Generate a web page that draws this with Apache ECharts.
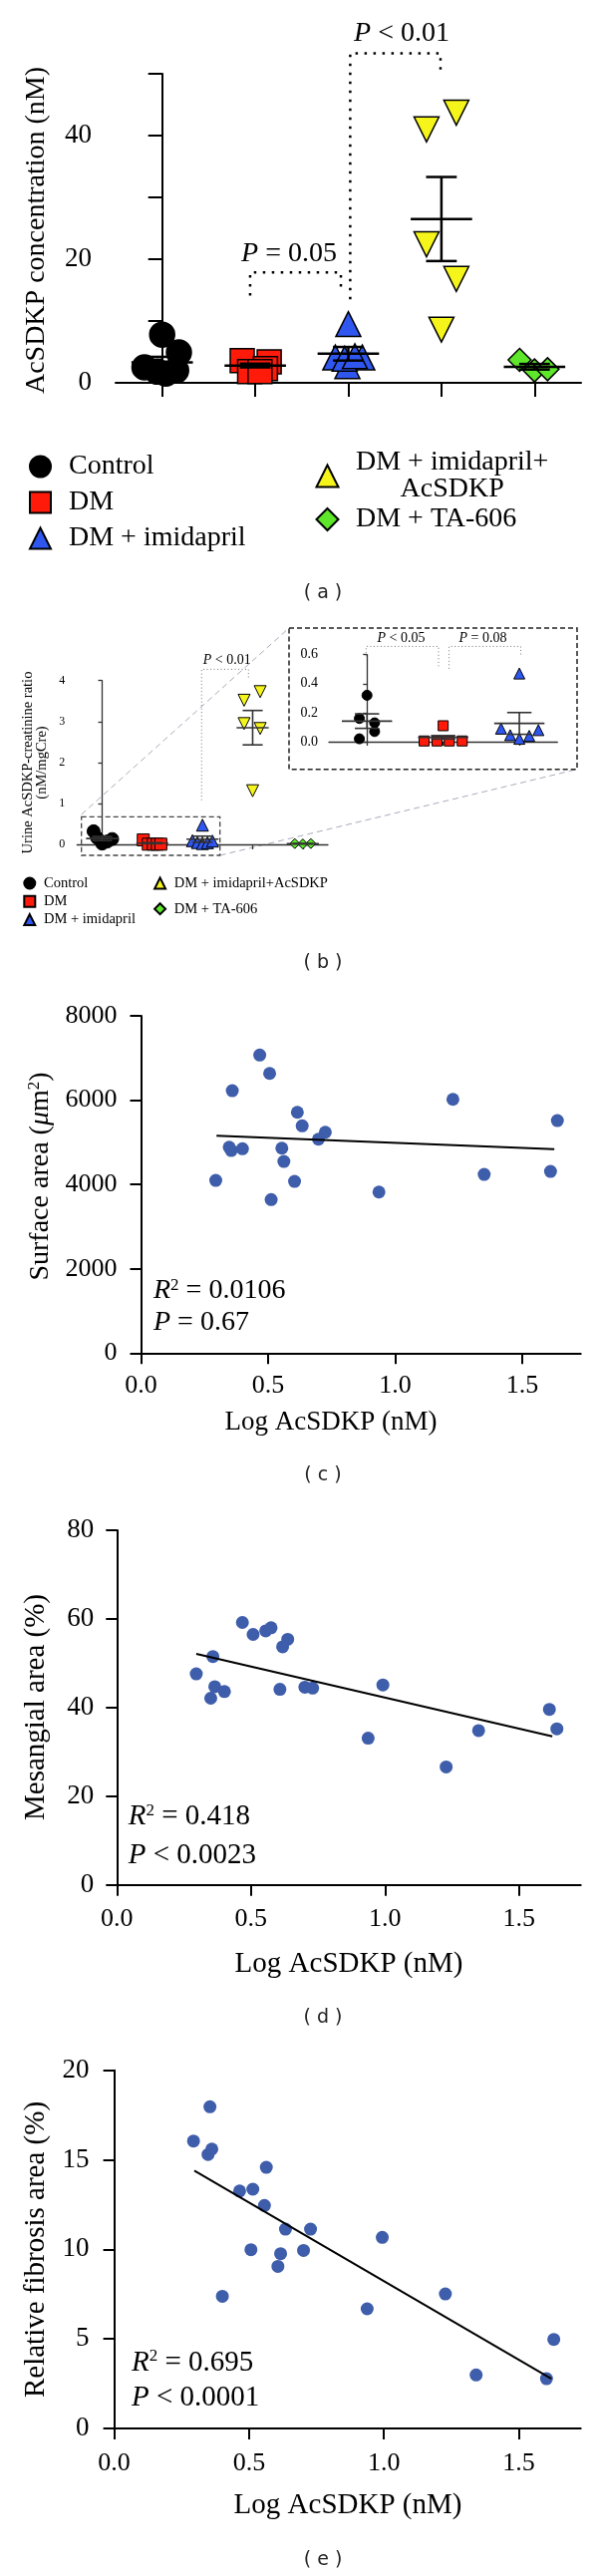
<!DOCTYPE html>
<html><head><meta charset="utf-8">
<script src="https://cdn.jsdelivr.net/npm/echarts@6/dist/echarts.min.js"></script>
<style>html,body{margin:0;padding:0;background:#fff}#c{width:600px;height:2584px}</style>
</head><body><div id="c"></div>
<script>
// ---------- categories ----------
const groups = ['Control', 'DM', 'DM + imidapril', 'DM + imidapril+AcSDKP', 'DM + TA-606'];

// ---------- panel (a): plasma AcSDKP (nM) ----------
const aCtrl = [7.8, 4.9, 2.5, 1.8, 2.0, 1.5];
const aCtrlX = [0, 0.18, -0.19, -0.05, 0.15, 0.04];
const aDM = [3.6, 3.4, 2.3, 1.8, 1.8];
const aDMX = [-0.14, 0.15, 0.11, -0.06, 0.05];
const aImi = [9.5, 4.1, 4.1, 2.7, 3.9, 4.3];
const aImiX = [0, -0.14, 0.15, -0.01, -0.04, 0.07];
const aAc = [41.0, 43.7, 22.4, 16.8, 8.6];
const aAcX = [-0.16, 0.16, -0.16, 0.16, 0];
const aTA = [3.7, 2.0, 2.2];
const aTAX = [-0.16, 0, 0.14];
const aMean = [3.3, 2.8, 4.7, 26.5, 2.6];
const aSEM = [0.9, 0.3, 1.1, 6.8, 0.45];
const aYLabels = [0, 20, 40];
const aBracket1 = [[0.945, 14.1], [0.945, 17.85], [1.92, 17.85], [1.92, 14.7]];
const aBracket2 = [[2.02, 13.5], [2.02, 53.3], [2.99, 53.3], [2.99, 50]];

// ---------- panel (b): urine AcSDKP-creatinine ratio ----------
const bCtrl = [0.32, 0.16, 0.13, 0.07, 0.02];
const bCtrlX = [-0.17, -0.1, 0.2, 0.1, 0.0];
const bCtrlXi = [0, -0.1, 0.1, 0.1, -0.1];
const bDM = [0.11, 0.005, 0.005, 0.005, 0.005];
const bDMX = [-0.18, -0.08, 0.02, 0.1, 0.17];
const bDMXi = [0, -0.25, -0.08, 0.08, 0.25];
const bImi = [0.47, 0.09, 0.045, 0.02, 0.04, 0.08];
const bImiX = [0, -0.2, -0.1, 0, 0.1, 0.2];
const bImiXi = [0, -0.24, -0.12, 0, 0.13, 0.25];
const bAc = [3.52, 3.73, 2.95, 2.83, 1.31];
const bAcX = [-0.17, 0.15, -0.17, 0.15, 0];
const bTA = [0.02, 0.01, 0.02];
const bTAX = [-0.16, 0, 0.16];
const bMean = [0.142, 0.03, 0.126, 2.85, 0.015];
const bSEM = [0.05, 0.012, 0.075, 0.42, 0.005];
const bBracket = [[1.983, 1.08], [1.983, 4.276], [2.917, 4.276], [2.917, 4.03]];
const biBracket1 = [[-0.012, 0.589], [-0.012, 0.657], [0.939, 0.657], [0.939, 0.503]];
const biBracket2 = [[1.077, 0.503], [1.077, 0.657], [2.019, 0.657], [2.019, 0.589]];

// ---------- panels (c)-(e): correlations ----------
const xTicks = [0, 0.5, 1.0, 1.5];
const cX = [0.467,0.506,0.359,1.227,1.638,0.615,0.634,0.725,0.698,0.347,0.355,0.399,0.554,0.562,0.294,0.604,1.350,1.611,0.936,0.512];
const cY = [7069,6634,6225,6019,5515,5712,5390,5239,5073,4884,4806,4846,4861,4546,4097,4073,4239,4310,3820,3641];
const cFit = [[0.297, 5154], [1.626, 4837]];
const dX = [0.468,0.508,0.555,0.575,0.637,0.618,0.358,0.296,0.365,0.401,0.350,0.608,0.701,0.730,0.992,0.937,1.228,1.349,1.613,1.641];
const dY = [59.2,56.5,57.3,58.0,55.4,53.7,51.5,47.6,44.7,43.6,42.1,44.1,44.6,44.4,45.1,33.1,26.6,34.8,39.6,35.2];
const dFit = [[0.296, 52.1], [1.624, 33.5]];
const eX = [0.355,0.294,0.348,0.362,0.564,0.465,0.514,0.557,0.635,0.728,0.994,0.507,0.617,0.702,0.607,0.401,0.938,1.228,1.630,1.342,1.603];
const eY = [17.96,16.05,15.3,15.6,14.58,13.26,13.36,12.45,11.13,11.13,10.67,9.98,9.76,9.94,9.05,7.38,6.68,7.51,4.97,2.99,2.78];
const eFit = [[0.297, 14.4], [1.621, 2.78]];

// ---------- styling ----------
const SERIF = 'Liberation Serif';
const COL = { ctrl: '#000000', dm: '#FF1A0A', imi: '#2F57F0', ac: '#F5F51C', ta: '#5EE62A' };
const DOT = '#3E5DAA';

const chart = echarts.init(document.getElementById('c'), null, { renderer: 'canvas', width: 600, height: 2584 });

function pts(vals, offs, cat) { return vals.map((v, i) => [cat + offs[i], v]); }
function scat(name, ax, data, symbol, size, color, rot, bw) {
  return { type: 'scatter', name, xAxisIndex: ax, yAxisIndex: ax, data, symbol, symbolSize: size,
    symbolRotate: rot || 0, itemStyle: { color, borderColor: '#000', borderWidth: bw, opacity: 1 }, z: 3, silent: true };
}
function meanSem(ax, means, sems, halfMean, halfCap, width, color) {
  return { type: 'custom', xAxisIndex: ax, yAxisIndex: ax, z: 6, clip: false, silent: true,
    data: means.map((m, i) => [i, m, sems[i]]),
    renderItem(params, api) {
      const x = api.value(0), m = api.value(1), s = api.value(2);
      const seg = (a, b) => ({ type: 'line', shape: { x1: a[0], y1: a[1], x2: b[0], y2: b[1] }, style: { stroke: color, lineWidth: width } });
      const p = (u, v) => api.coord([u, v]);
      return { type: 'group', children: [
        seg(p(x - halfMean, m), p(x + halfMean, m)),
        seg(p(x, m - s), p(x, m + s)),
        seg(p(x - halfCap, m + s), p(x + halfCap, m + s)),
        seg(p(x - halfCap, m - s), p(x + halfCap, m - s))
      ] };
    } };
}
function bracket(ax, data, color, width, dash) {
  return { type: 'line', xAxisIndex: ax, yAxisIndex: ax, data, symbol: 'none', clip: false, silent: true, z: 4,
    lineStyle: { color, width, type: dash } };
}
function fit(ax, data) {
  return { type: 'line', xAxisIndex: ax, yAxisIndex: ax, data, symbol: 'none', silent: true, z: 4,
    lineStyle: { color: '#000', width: 2 } };
}
function dots(ax, xs, ys) {
  return { type: 'scatter', xAxisIndex: ax, yAxisIndex: ax, data: xs.map((x, i) => [x, ys[i]]), symbol: 'circle',
    symbolSize: 13, itemStyle: { color: DOT, opacity: 1 }, silent: true, z: 3 };
}

function catX(grid, n, tickLen, lw, color) {
  const ticks = Array.from({ length: n }, (_, i) => i);
  return { type: 'value', gridIndex: grid, min: -0.5, max: n - 0.5,
    axisLine: { show: true, lineStyle: { color, width: lw } },
    axisTick: { show: true, customValues: ticks, length: tickLen, lineStyle: { color, width: lw } },
    axisLabel: { show: false }, splitLine: { show: false } };
}
function valY(grid, max, interval, tickLen, lw, color, fontSize, margin, extra) {
  return Object.assign({ type: 'value', gridIndex: grid, min: 0, max, interval,
    axisLine: { show: true, lineStyle: { color, width: lw } },
    axisTick: { show: true, length: tickLen, lineStyle: { color, width: lw } },
    axisLabel: { fontFamily: SERIF, fontSize, color: '#000', margin, formatter: v => String(v) },
    splitLine: { show: false } }, extra || {});
}
function logX(grid, margin) {
  return { type: 'value', gridIndex: grid, min: 0, max: 1.73,
    axisLine: { show: true, lineStyle: { color: '#000', width: 2 } },
    axisTick: { show: true, customValues: xTicks, length: 11, lineStyle: { color: '#000', width: 2 } },
    axisLabel: { customValues: xTicks, formatter: v => v.toFixed(1), fontFamily: SERIF, fontSize: 26, color: '#000', margin },
    splitLine: { show: false } };
}

const rich = (size) => ({
  i: { fontStyle: 'italic', fontSize: size, fontFamily: SERIF, fill: '#000' },
  s: { fontSize: Math.round(size * 0.6), fontFamily: SERIF, verticalAlign: 'top', fill: '#000' }
});
function txt(x, y, text, size, opt) {
  opt = opt || {};
  return { type: 'text', x, y, rotation: opt.rot || 0, z: 10, silent: true,
    style: { text, fontFamily: opt.family || SERIF, fontSize: size, fill: opt.fill || '#000',
      align: opt.align || 'center', verticalAlign: 'middle', lineHeight: opt.lh, rich: rich(size) } };
}
const R90 = Math.PI / 2;
const LBL = { family: 'DejaVu Sans', fill: '#222' };

const series = [
  // panel a
  scat(groups[0], 0, pts(aCtrl, aCtrlX, 0), 'circle', 25, COL.ctrl, 0, 1.5),
  scat(groups[1], 0, pts(aDM, aDMX, 1), 'rect', 24, COL.dm, 0, 1.5),
  scat(groups[2], 0, pts(aImi, aImiX, 2), 'triangle', 25, COL.imi, 0, 1.5),
  scat(groups[3], 0, pts(aAc, aAcX, 3), 'triangle', 25, COL.ac, 180, 1.5),
  scat(groups[4], 0, pts(aTA, aTAX, 4), 'diamond', 23, COL.ta, 0, 1.5),
  meanSem(0, aMean, aSEM, 0.33, 0.165, 2.5, '#000'),
  bracket(0, aBracket1, '#000', 2.5, [2.5, 6.5]),
  bracket(0, aBracket2, '#000', 2.5, [2.5, 6.5]),
  // panel b main
  scat(groups[0], 1, pts(bCtrl, bCtrlX, 0), 'circle', 13, COL.ctrl, 0, 1),
  scat(groups[1], 1, pts(bDM, bDMX, 1), 'rect', 12, COL.dm, 0, 1),
  scat(groups[2], 1, pts(bImi, bImiX, 2), 'triangle', 12, COL.imi, 0, 1),
  scat(groups[3], 1, pts(bAc, bAcX, 3), 'triangle', 12, COL.ac, 180, 1),
  scat(groups[4], 1, pts(bTA, bTAX, 4), 'diamond', 10, COL.ta, 0, 1),
  meanSem(1, bMean, bSEM, 0.32, 0.2, 1.6, '#333'),
  bracket(1, bBracket, '#777', 1, [1, 2.5]),
  // panel b inset
  scat(groups[0], 2, pts(bCtrl, bCtrlXi, 0), 'circle', 10, COL.ctrl, 0, 1),
  scat(groups[1], 2, pts(bDM, bDMXi, 1), 'rect', 10, COL.dm, 0, 1),
  scat(groups[2], 2, pts(bImi, bImiXi, 2), 'triangle', 11, COL.imi, 0, 1),
  meanSem(2, bMean.slice(0, 3), bSEM.slice(0, 3), 0.33, 0.16, 1.6, '#333'),
  bracket(2, biBracket1, '#777', 1, [1, 2.5]),
  bracket(2, biBracket2, '#777', 1, [1, 2.5]),
  // panels c-e
  dots(3, cX, cY), fit(3, cFit),
  dots(4, dX, dY), fit(4, dFit),
  dots(5, eX, eY), fit(5, eFit)
];

const legText = { fontFamily: SERIF, color: '#000' };
const option = {
  animation: false,
  backgroundColor: '#fff',
  grid: [
    { left: 116, top: 74, width: 467, height: 310 },
    { left: 77.3, top: 682.7, width: 251.7, height: 164.3 },
    { left: 330, top: 656.7, width: 229.3, height: 87.3 },
    { left: 141.5, top: 1019, width: 441.2, height: 338.3 },
    { left: 117.3, top: 1535, width: 465.4, height: 355.7 },
    { left: 114.6, top: 2076.7, width: 468.1, height: 359.3 }
  ],
  xAxis: [
    catX(0, 5, 14, 2, '#000'),
    catX(1, 5, 5, 1.3, '#333'),
    catX(2, 3, 4, 1.3, '#333'),
    logX(3, 20), logX(4, 21), logX(5, 22)
  ],
  yAxis: [
    valY(0, 50, 10, 14, 2, '#000', 27, 24, { axisLabel: { customValues: aYLabels, fontFamily: SERIF, fontSize: 27, color: '#000', margin: 24 } }),
    valY(1, 4, 1, 4, 1.3, '#333', 12, 12),
    valY(2, 0.6, 0.2, 4, 1.3, '#333', 14, 11, { axisLabel: { formatter: v => v.toFixed(1), fontFamily: SERIF, fontSize: 14, color: '#000', margin: 11 } }),
    valY(3, 8000, 2000, 11, 2, '#000', 26, 24),
    valY(4, 80, 20, 11, 2, '#000', 27, 23),
    valY(5, 20, 5, 11, 2, '#000', 27, 25)
  ],
  legend: [
    { orient: 'vertical', left: 29, top: 454, padding: 0, itemWidth: 21, itemHeight: 21, itemGap: 8, selectedMode: false,
      data: groups.slice(0, 3), textStyle: Object.assign({ fontSize: 28, lineHeight: 28, padding: [0, 0, 0, 13] }, legText) },
    { orient: 'vertical', left: 316.5, top: 450, padding: 0, itemWidth: 22, itemHeight: 22, itemGap: 2, selectedMode: false,
      data: groups.slice(3),
      formatter: n => n === groups[3] ? '{l|DM + imidapril+}\n{c|AcSDKP}' : n,
      textStyle: Object.assign({ fontSize: 28, lineHeight: 27, padding: [0, 0, 0, 12.5],
        rich: { l: { fontSize: 28, lineHeight: 27, fontFamily: SERIF, color: '#000' },
                c: { fontSize: 28, lineHeight: 27, fontFamily: SERIF, color: '#000', align: 'center' } } }, legText) },
    { orient: 'vertical', left: 23.3, top: 878, padding: 0, itemWidth: 11, itemHeight: 11, itemGap: 2.3, selectedMode: false,
      data: groups.slice(0, 3), textStyle: Object.assign({ fontSize: 14.5, lineHeight: 16, padding: [0, 0, 0, 3.7] }, legText) },
    { orient: 'vertical', left: 154.1, top: 878, padding: 0, itemWidth: 11, itemHeight: 11, itemGap: 9.7, selectedMode: false,
      data: groups.slice(3), textStyle: Object.assign({ fontSize: 14.5, lineHeight: 16, padding: [0, 0, 0, 3.7] }, legText) }
  ],
  graphic: [
    // panel (a)
    txt(37, 231, 'AcSDKP concentration (nM)', 28, { rot: R90 }),
    txt(290, 255, '{i|P} = 0.05', 28),
    txt(403, 34, '{i|P} < 0.01', 28),
    txt(324, 595, '( a )', 19, LBL),
    // panel (b)
    txt(35, 765, 'Urine AcSDKP-creatinine ratio\n(nM/mgCre)', 14.5, { rot: R90, lh: 14 }),
    txt(227.7, 662.7, '{i|P} < 0.01', 14),
    txt(402.5, 640, '{i|P} < 0.05', 14),
    txt(484.5, 640, '{i|P} = 0.08', 14),
    { type: 'rect', z: 1, silent: true, shape: { x: 290, y: 630, width: 289, height: 141.7 },
      style: { fill: 'none', stroke: '#222', lineWidth: 1.5, lineDash: [5, 3] } },
    { type: 'rect', z: 1, silent: true, shape: { x: 81.7, y: 819.3, width: 139, height: 38.7 },
      style: { fill: 'none', stroke: '#444', lineWidth: 1.3, lineDash: [5, 3] } },
    { type: 'line', z: 0, silent: true, shape: { x1: 81.7, y1: 817, x2: 290, y2: 630 },
      style: { stroke: '#aab', lineWidth: 1, lineDash: [6, 4] } },
    { type: 'line', z: 0, silent: true, shape: { x1: 220.7, y1: 858, x2: 579, y2: 771.7 },
      style: { stroke: '#aab', lineWidth: 1, lineDash: [6, 4] } },
    txt(324, 965.7, '( b )', 19, LBL),
    // panel (c)
    txt(40.4, 1180, 'Surface area ({i|μ}m{s|2})', 28, { rot: R90 }),
    txt(332, 1426.7, 'Log AcSDKP (nM)', 27),
    txt(154, 1295, '{i|R}{s|2} = 0.0106', 28, { align: 'left' }),
    txt(154, 1326.7, '{i|P} = 0.67', 28, { align: 'left' }),
    txt(324, 1480, '( c )', 19, LBL),
    // panel (d)
    txt(36.5, 1712.5, 'Mesangial area (%)', 29, { rot: R90 }),
    txt(350, 1970, 'Log AcSDKP (nM)', 29),
    txt(128.8, 1822.7, '{i|R}{s|2} = 0.418', 29, { align: 'left' }),
    txt(128.8, 1861.7, '{i|P} < 0.0023', 29, { align: 'left' }),
    txt(324, 2024, '( d )', 19, LBL),
    // panel (e)
    txt(36.5, 2256.5, 'Relative fibrosis area (%)', 29, { rot: R90 }),
    txt(349, 2513.3, 'Log AcSDKP (nM)', 29),
    txt(132, 2370, '{i|R}{s|2} = 0.695', 29, { align: 'left' }),
    txt(132, 2405, '{i|P} < 0.0001', 29, { align: 'left' }),
    txt(324, 2568, '( e )', 19, LBL)
  ],
  series
};
chart.setOption(option);
</script>
</body></html>
